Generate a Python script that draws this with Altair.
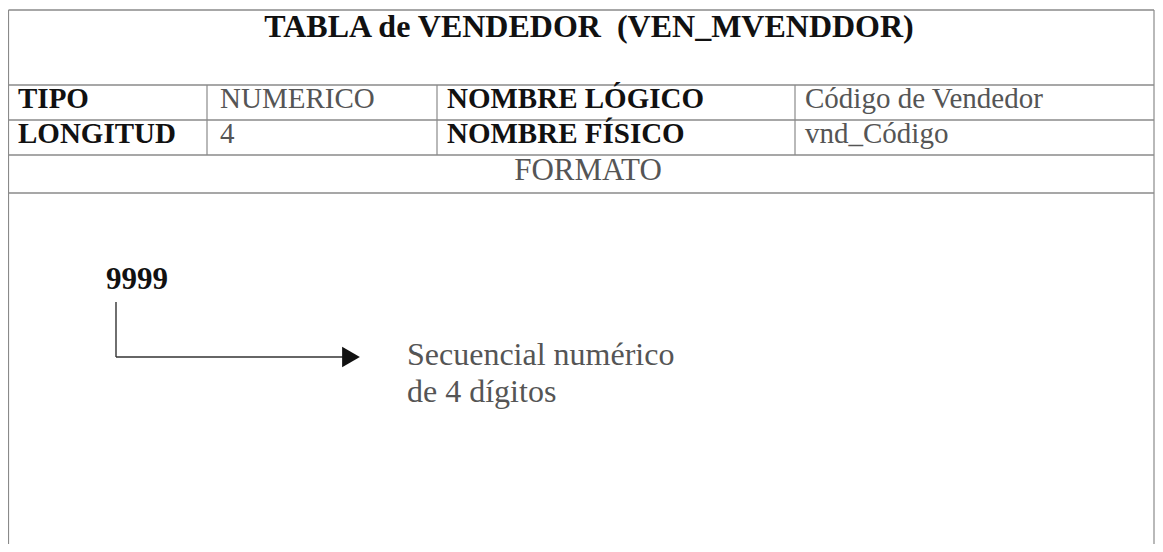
import altair as alt
import pandas as pd

# ---- content ----
title_text = ["TABLA de VENDEDOR\u00a0 (VEN_MVENDDOR)"]
field_labels = ["TIPO", "LONGITUD", "NOMBRE LÓGICO", "NOMBRE FÍSICO"]
field_values = ["NUMERICO", "4", "Código de Vendedor", "vnd_Código"]
section_text = ["FORMATO"]
format_code = ["9999"]
format_desc = ["Secuencial numérico", "de 4 dígitos"]

# ---- layout (page pixel coordinates) ----
X0, X1 = 8, 1155          # visible area of the chart on the page
Y0, Y1 = 8, 544
LEFT, RIGHT = 8.5, 1154
row_lines = [10, 85, 120, 155, 193]
col_lines = [207, 437, 795]
label_x = [18, 18, 447, 447]
value_x = [220, 220, 805, 805]
row_base = [108, 143, 108, 143]

FONT = "Liberation Serif"
LINE = "#8a8a8a"
GREY = "#555555"

xs = alt.Scale(domain=[X0, X1], range=[0, X1 - X0], nice=False, zero=False)
ys = alt.Scale(domain=[Y0, Y1], range=[0, Y1 - Y0], nice=False, zero=False)


def X(f="x"):
    return alt.X(f"{f}:Q", scale=xs, axis=None)


def Y(f="y"):
    return alt.Y(f"{f}:Q", scale=ys, axis=None)


# horizontal table lines
hdf = pd.DataFrame({"y": row_lines, "x": [LEFT] * len(row_lines), "x2": [RIGHT] * len(row_lines)})
hlines = alt.Chart(hdf).mark_rule(color=LINE, strokeWidth=1.4).encode(
    x=X(), x2="x2:Q", y=Y())

# vertical lines: outer borders and column separators
vdf = pd.DataFrame({
    "x": [LEFT, RIGHT] + col_lines,
    "y": [10, 10] + [85] * len(col_lines),
    "y2": [Y1, Y1] + [155] * len(col_lines),
})
vlines = alt.Chart(vdf).mark_rule(color=LINE, strokeWidth=1.2).encode(
    x=X(), y=Y(), y2="y2:Q")

# title
tdf = pd.DataFrame({"t": title_text, "x": [589], "y": [37]})
title = alt.Chart(tdf).mark_text(
    font=FONT, fontSize=32, fontWeight="bold", align="center",
    baseline="alphabetic", color="#111").encode(x=X(), y=Y(), text="t:N")

# field labels (bold)
ldf = pd.DataFrame({"t": field_labels, "x": label_x, "y": row_base})
labels = alt.Chart(ldf).mark_text(
    font=FONT, fontSize=29, fontWeight="bold", align="left",
    baseline="alphabetic", color="#111").encode(x=X(), y=Y(), text="t:N")

# field values (light)
vdf2 = pd.DataFrame({"t": field_values, "x": value_x, "y": row_base})
values = alt.Chart(vdf2).mark_text(
    font=FONT, fontSize=29, align="left",
    baseline="alphabetic", color=GREY).encode(x=X(), y=Y(), text="t:N")

# FORMATO section header
sdf = pd.DataFrame({"t": section_text, "x": [588], "y": [180]})
section = alt.Chart(sdf).mark_text(
    font=FONT, fontSize=31, align="center",
    baseline="alphabetic", color=GREY).encode(x=X(), y=Y(), text="t:N")

# format code
cdf = pd.DataFrame({"t": format_code, "x": [106], "y": [289]})
code = alt.Chart(cdf).mark_text(
    font=FONT, fontSize=31, fontWeight="bold", align="left",
    baseline="alphabetic", color="#111").encode(x=X(), y=Y(), text="t:N")

# description
ddf = pd.DataFrame({"t": format_desc, "x": [407, 407], "y": [365, 402]})
desc = alt.Chart(ddf).mark_text(
    font=FONT, fontSize=32, align="left",
    baseline="alphabetic", color=GREY).encode(x=X(), y=Y(), text="t:N")

# connector: vertical then horizontal, with arrow head
adf = pd.DataFrame({"x": [116, 116], "y": [302, 357], "x2": [116, 346], "y2": [357, 357]})
arrow_lines = alt.Chart(adf).mark_rule(color="#333", strokeWidth=1.4).encode(
    x=X(), y=Y(), x2="x2:Q", y2="y2:Q")
hdf2 = pd.DataFrame({"x": [351], "y": [357]})
head = alt.Chart(hdf2).mark_point(
    shape="triangle-right", filled=True, size=420, color="#111", opacity=1).encode(
    x=X(), y=Y())

chart = alt.layer(
    hlines, vlines, title, labels, values, section, code, desc, arrow_lines, head
).properties(
    width=X1 - X0, height=Y1 - Y0, padding=0, autosize="none",
    background="white",
).configure_view(strokeWidth=0)

chart.save("out.html", embed_options={"renderer": "svg", "actions": False})
